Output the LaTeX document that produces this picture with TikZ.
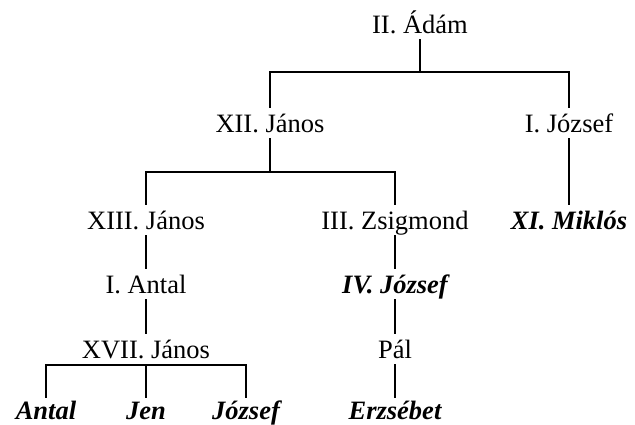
\documentclass[tikz,border=0pt]{standalone}
\usepackage{fontspec}
\setmainfont{Liberation Serif}
\usepackage{tikz}
\usetikzlibrary{positioning, calc}

\begin{document}
\begin{tikzpicture}[
    x=1pt, y=-1pt,
    person/.style={inner xsep=0pt, inner ysep=7pt, text height=18pt, text depth=0pt, anchor=base, font=\rmfamily\fontsize{26.5}{30}\selectfont},
    heir/.style={person, font=\rmfamily\fontsize{26.5}{30}\selectfont\bfseries\itshape},
    link/.style={line width=1.7pt, line cap=rect}
]
    \useasboundingbox (0,0) rectangle (635,424);

    % generations
    \node[person] (adam) at (420,33) {II. Ádám};
    \node[person] (janos12) at (270,132) {XII. János};
    \node[person] (jozsef1) at (569,132) {I. József};
    \node[person] (janos13) at (146,229) {XIII. János};
    \node[person] (zsigmond) at (395,229) {III. Zsigmond};
    \node[heir] (miklos) at (569,229) {XI. Miklós};
    \node[person] (antal1) at (146,293) {I. Antal};
    \node[heir] (jozsef4) at (395,293) {IV. József};
    \node[person] (janos17) at (146,358) {XVII. János};
    \node[person] (pal) at (395,358) {Pál};
    \node[heir, inner ysep=4pt] (antal) at (46,419) {Antal};
    \node[heir, inner ysep=4pt] (jen) at (146,419) {Jen};
    \node[heir, inner ysep=4pt] (jozsef) at (246,419) {József};
    \node[heir, inner ysep=4pt] (erzsebet) at (395,419) {Erzsébet};

    \coordinate (fork1) at (420,72);
    \coordinate (fork2) at (270,172);

    \draw[link] (adam.south) -- (fork1);
    \draw[link] (janos12.north) |- (fork1) -| (jozsef1.north);
    \draw[link] (janos12.south) -- (fork2);
    \draw[link] (janos13.north) |- (fork2) -| (zsigmond.north);
    \draw[link] (jozsef1.south) -- (miklos.north);
    \draw[link] (janos13.south) -- (antal1.north);
    \draw[link] (antal1.south) -- (janos17.north);
    \draw[link] (antal.north) |- (janos17.south) -| (jozsef.north);
    \draw[link] (janos17.south) -- (jen.north);
    \draw[link] (zsigmond.south) -- (jozsef4.north);
    \draw[link] (jozsef4.south) -- (pal.north);
    \draw[link] (pal.south) -- (erzsebet.north);
\end{tikzpicture}
\end{document}
